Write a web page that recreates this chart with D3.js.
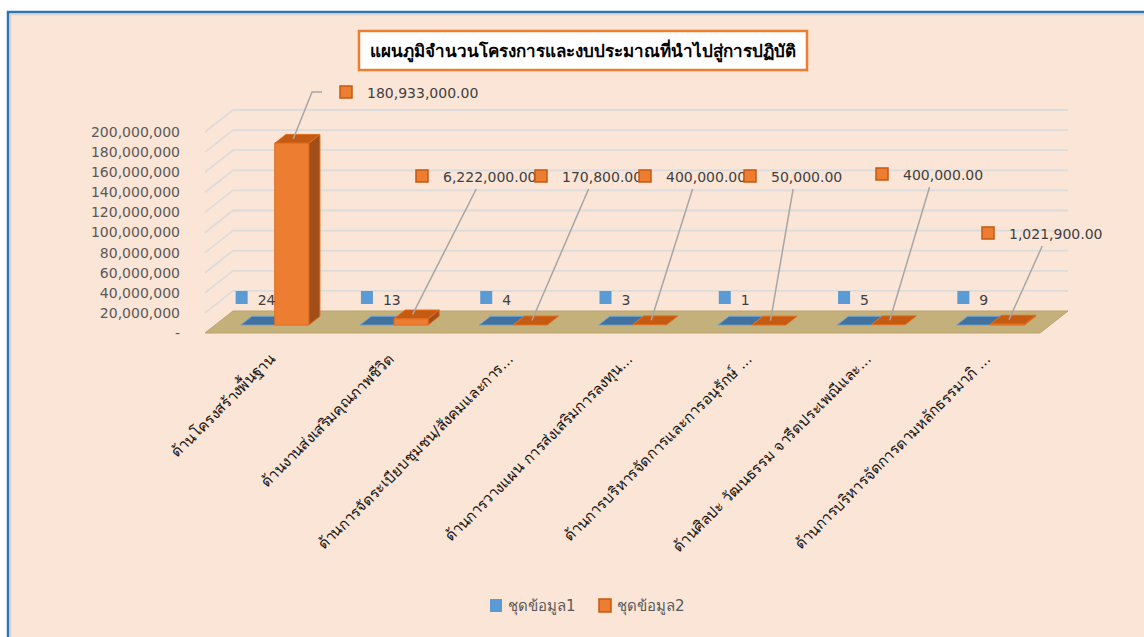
<!DOCTYPE html>
<html>
<head>
<meta charset="utf-8">
<script src="https://cdn.jsdelivr.net/npm/d3@7"></script>
<style>
  body { margin: 0; background: #fff; }
  svg text { font-family: "DejaVu Sans", "Noto Sans", sans-serif; }
</style>
</head>
<body>
<svg id="chart" width="1144" height="637"></svg>
<script>
// chart data
const title = "แผนภูมิจำนวนโครงการและงบประมาณที่นำไปสู่การปฏิบัติ";
const categories = [
  "ด้านโครงสร้างพื้นฐาน",
  "ด้านงานส่งเสริมคุณภาพชีวิต",
  "ด้านการจัดระเบียบชุมชน/สังคมและการ...",
  "ด้านการวางแผน การส่งเสริมการลงทุน...",
  "ด้านการบริหารจัดการและการอนุรักษ์ ...",
  "ด้านศิลปะ วัฒนธรรม จารีตประเพณีและ...",
  "ด้านการบริหารจัดการตามหลักธรรมาภิ ..."
];
const seriesNames = ["ชุดข้อมูล1", "ชุดข้อมูล2"];
const series1 = [24, 13, 4, 3, 1, 5, 9];
const series2 = [180933000, 6222000, 170800, 400000, 50000, 400000, 1021900];
const yTicks = [0, 20e6, 40e6, 60e6, 80e6, 100e6, 120e6, 140e6, 160e6, 180e6, 200e6];

// where the series-2 labels were dragged to in the original (marker left, middle y)
const label2Pos = [[340, 92, true], [416, 176], [535, 176], [639, 176], [744, 176], [876, 174], [982, 233]];

const svg = d3.select('#chart');

// frame
svg.append('rect').attr('x', 8).attr('y', 12).attr('width', 1200).attr('height', 700)
  .attr('fill', '#FBE5D6').attr('stroke', '#2E75B6').attr('stroke-width', 2.5);
svg.append('path').attr('d', 'M10.5,1000 V14.5 H1200')
  .attr('fill', 'none').attr('stroke', '#d9d4d0').attr('stroke-width', 1.5);

// 3d projection: z = 0 front, z = 1 back wall
const depth = { dx: 28, dy: -22 };
const P = (x, y, z) => [x + z * depth.dx, y + z * depth.dy];
const poly = pts => 'M' + pts.map(p => p.join(',')).join('L') + 'Z';

const x = d3.scaleBand().domain(categories).range([205, 1040]);
const y = d3.scaleLinear().domain([0, 200e6]).range([333, 132]);
const [x0, x1] = x.range();

// gridlines on side + back wall
yTicks.slice(1).forEach(t => {
  const a = P(x0, y(t), 0), b = P(x0, y(t), 1), c = P(x1, y(t), 1);
  svg.append('path').attr('d', `M${a}L${b}L${c}`)
    .attr('fill', 'none').attr('stroke', '#dcdcdc').attr('stroke-width', 1.8);
});

// y axis labels
const yAxis = svg.append('g').attr('transform', `translate(${x0 - 25},0)`)
  .call(d3.axisLeft(y).tickValues(yTicks).tickSize(0).tickPadding(0)
    .tickFormat(d => d === 0 ? '-' : d3.format(',')(d)));
yAxis.select('.domain').remove();
yAxis.selectAll('text').attr('fill', '#595959').style('font-size', '14px')
  .style('font-family', '"DejaVu Sans", sans-serif');

// floor
svg.append('path')
  .attr('d', poly([P(x0, y(0), 0), P(x1, y(0), 0), P(x1, y(0), 1), P(x0, y(0), 1)]))
  .attr('fill', '#C4B07B').attr('stroke', '#B9A36C').attr('stroke-width', 1);

// bars
const styles = [
  { front: '#5B9BD5', side: '#3A6B98', top: '#41719C', stroke: '#6FA5D8' },
  { front: '#ED7D31', side: '#A24E18', top: '#C55A11', stroke: '#E06E22' }
];
const z0 = 0.36, z1 = 0.76, barW = 34;
const barTops = [];

categories.forEach((cat, i) => {
  const c = x(cat) + x.bandwidth() / 2;
  [series1[i], series2[i]].forEach((v, s) => {
    const bx0 = s === 0 ? c - barW : c, bx1 = bx0 + barW;
    const yb = y(0), yt = y(v);
    const st = styles[s];
    const g = svg.append('g').attr('stroke', st.stroke).attr('stroke-width', 1)
      .attr('stroke-linejoin', 'round');
    if (yb - yt > 0.5) {
      g.append('path').attr('fill', st.side)
        .attr('d', poly([P(bx1, yb, z0), P(bx1, yb, z1), P(bx1, yt, z1), P(bx1, yt, z0)]));
    }
    g.append('path').attr('fill', st.top)
      .attr('d', poly([P(bx0, yt, z0), P(bx1, yt, z0), P(bx1, yt, z1), P(bx0, yt, z1)]));
    if (yb - yt > 0.5) {
      g.append('path').attr('fill', st.front)
        .attr('d', poly([P(bx0, yb, z0), P(bx1, yb, z0), P(bx1, yt, z0), P(bx0, yt, z0)]));
    }
    if (s === 1) barTops.push(P((bx0 + bx1) / 2 - 4, yt, (z0 + z1) / 2));
  });
});

// series 1 labels
categories.forEach((cat, i) => {
  const c = x(cat) + x.bandwidth() / 2;
  const mx = c - 23 - (i === 0 ? 6 : 0), my = y(series1[i]) - 35;
  svg.append('rect').attr('x', mx).attr('y', my - 7).attr('width', 12).attr('height', 13)
    .attr('fill', '#5B9BD5');
  svg.append('text').attr('x', mx + 22).attr('y', my + 7).text(series1[i])
    .attr('fill', '#404040').style('font-size', '14px');
});

// series 2 labels with leader lines
const fmt2 = d3.format(',.2f');
series2.forEach((v, i) => {
  const [lx, ly, elbow] = label2Pos[i];
  const t = svg.append('text').attr('x', lx + 27).attr('y', ly + 6).text(fmt2(v))
    .attr('fill', '#404040').style('font-size', '14px');
  const w = 27 + t.node().getComputedTextLength();
  const a = barTops[i];
  const pts = elbow ? [a, [lx - 28, ly], [lx - 18, ly]] : [a, [lx + w / 2, ly + 13]];
  svg.insert('path', () => t.node()).attr('d', 'M' + pts.map(p => p.join(',')).join('L'))
    .attr('fill', 'none').attr('stroke', '#A6A6A6').attr('stroke-width', 1.5);
  svg.append('rect').attr('x', lx).attr('y', ly - 6).attr('width', 12).attr('height', 12)
    .attr('fill', '#ED7D31').attr('stroke', '#C55A11').attr('stroke-width', 1.5);
});

// category labels
categories.forEach(cat => {
  const c = x(cat) + x.bandwidth() / 2;
  svg.append('text').attr('transform', `translate(${c + 11},360) rotate(-45)`)
    .attr('text-anchor', 'end').text(cat)
    .attr('fill', '#111').style('font-size', '15px');
});

// title
svg.append('rect').attr('x', 359).attr('y', 31).attr('width', 448).attr('height', 39)
  .attr('fill', '#fff').attr('stroke', '#ED7D31').attr('stroke-width', 2.5);
svg.append('text').attr('x', 583).attr('y', 57).attr('text-anchor', 'middle').text(title)
  .attr('fill', '#000').style('font-size', '17px').style('font-weight', 'bold');

// legend
const legend = svg.append('g');
[[490, '#5B9BD5', 'none'], [599, '#ED7D31', '#C55A11']].forEach(([lx, fill, stroke], i) => {
  legend.append('rect').attr('x', lx).attr('y', 599).attr('width', 12).attr('height', 13)
    .attr('fill', fill).attr('stroke', stroke).attr('stroke-width', 1.5);
  legend.append('text').attr('x', lx + 18).attr('y', 611).text(seriesNames[i])
    .attr('fill', '#595959').style('font-size', '15px');
});
</script>
</body>
</html>
